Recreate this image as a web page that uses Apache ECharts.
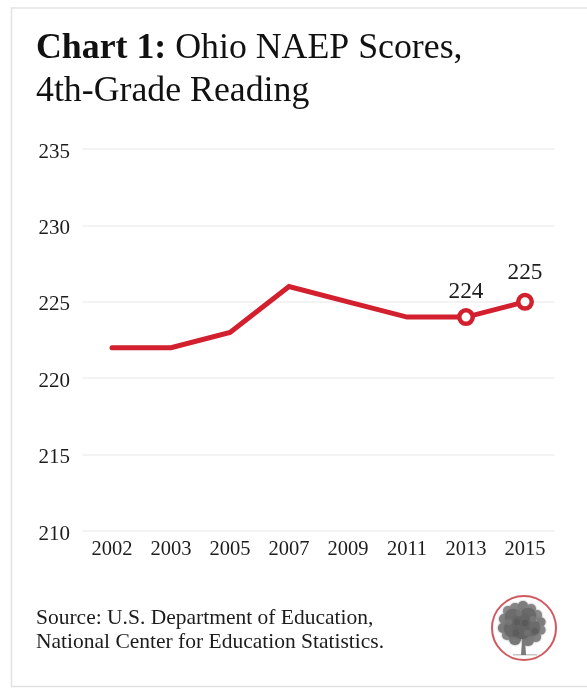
<!DOCTYPE html>
<html>
<head>
<meta charset="utf-8">
<style>html,body{margin:0;padding:0;background:#fff}#chart{width:587px;height:688px}</style>
<script src="https://cdn.jsdelivr.net/npm/echarts@6/dist/echarts.min.js"></script>
</head>
<body>
<div id="chart"></div>
<script>
const years = ['2002', '2003', '2005', '2007', '2009', '2011', '2013', '2015'];
const scores = [222, 222, 223, 226, 225, 224, 224, 225];
const markedYears = ['2013', '2015'];
const labelGaps = { '2013': 5, '2015': 8 };

const serif = '"Liberation Serif", "Times New Roman", serif';
const red = '#d2202e';
const ink = '#1c1c1c';

// Foliage of the tree emblem as [dx, dy, radius, fill], relative to the crown centre.
const foliage = [
  [-14,-14,5,'#8a8a8a'],[-7,-17,5,'#858585'],[1,-19,5,'#7d7d7d'],[9,-16,5,'#858585'],
  [15,-10,5,'#8a8a8a'],[-18,-6,5,'#808080'],[-19,3,5,'#7c7c7c'],[-15,10,5,'#858585'],
  [19,-3,4.5,'#7e7e7e'],[19,5,4.5,'#858585'],[14,12,5,'#828282'],[-7,14,6,'#777'],
  [6,15,6,'#7a7a7a'],[-9,-8,8,'#6c6c6c'],[6,-9,8,'#6a6a6a'],[-10,4,8,'#686868'],
  [10,3,8,'#6c6c6c'],[0,6,8,'#646464'],[0,-4,8,'#666'],
  [-13,-3,3,'#757575'],[-3,-12,3,'#747474'],[11,-6,3,'#767676'],[5,8,3,'#707070'],
  [-6,8,3,'#5c5c5c'],[3,-2,3,'#5a5a5a'],[-5,-3,3,'#5c5c5c'],[13,6,3,'#5e5e5e']
];
const crown = { x: 522, y: 625 };
const emblem = [
  { type: 'circle', shape: { cx: 524, cy: 628, r: 32 },
    style: { fill: '#fff', stroke: '#cf5a60', lineWidth: 2 } },
  { type: 'rect', shape: { x: 513, y: 654, width: 24, height: 1.5 }, style: { fill: '#c4c4c4' } },
  { type: 'polygon', shape: { points: [[522, 640], [525, 640], [526, 655], [521, 655]] }, style: { fill: '#7a7a7a' } }
].concat(foliage.map(([dx, dy, r, fill]) => ({
  type: 'circle', shape: { cx: crown.x + dx, cy: crown.y + dy, r },
  style: { fill, shadowBlur: 2, shadowColor: fill }
})));

const chart = echarts.init(document.getElementById('chart'), null, { renderer: 'canvas' });
chart.setOption({
  animation: false,
  backgroundColor: '#fff',
  grid: { left: 82.5, right: 32.5, top: 149, height: 382, containLabel: false },
  xAxis: {
    type: 'category',
    data: years,
    boundaryGap: true,
    axisLine: { show: false },
    axisTick: { show: false },
    axisLabel: { color: ink, fontFamily: serif, fontSize: 20.5, margin: 8, interval: 0 }
  },
  yAxis: {
    type: 'value',
    min: 210,
    max: 235,
    interval: 5,
    axisLine: { show: false },
    axisTick: { show: false },
    splitLine: { lineStyle: { color: '#efefef', width: 1.5 } },
    axisLabel: {
      color: ink, fontFamily: serif, fontSize: 21, align: 'left', margin: 44,
      verticalAlign: 'top', lineHeight: 6
    }
  },
  series: [{
    type: 'line',
    data: scores.map((value, i) => {
      const marked = markedYears.includes(years[i]);
      return {
        value,
        symbol: marked ? 'circle' : 'none',
        symbolSize: 13.5,
        label: { show: marked, distance: labelGaps[years[i]] }
      };
    }),
    showSymbol: true,
    lineStyle: { color: red, width: 5, cap: 'round', join: 'miter' },
    itemStyle: { color: '#fff', borderColor: red, borderWidth: 4.5 },
    label: {
      position: 'top', color: ink,
      fontFamily: serif, fontSize: 23.3
    },
    emphasis: { disabled: true }
  }],
  graphic: [
    { type: 'rect', silent: true, shape: { x: 11.5, y: 8, width: 580, height: 678.5 },
      style: { fill: 'none', stroke: '#e2e2e2', lineWidth: 1.5 } },
    { type: 'text', x: 36, y: 27,
      style: {
        text: '{b|Chart 1:} Ohio NAEP Scores,\n4th-Grade Reading',
        fill: '#111', font: '35.8px ' + serif, lineHeight: 43,
        rich: {
          b: { fontWeight: 'bold', fontFamily: serif, fontSize: 35.8, fill: '#111', lineHeight: 43 }
        }
      } },
    { type: 'text', x: 36, y: 606,
      style: {
        text: 'Source: U.S. Department of Education,\nNational Center for Education Statistics.',
        fill: ink, font: '21.5px ' + serif, lineHeight: 24
      } }
  ].concat(emblem)
});
</script>
</body>
</html>
